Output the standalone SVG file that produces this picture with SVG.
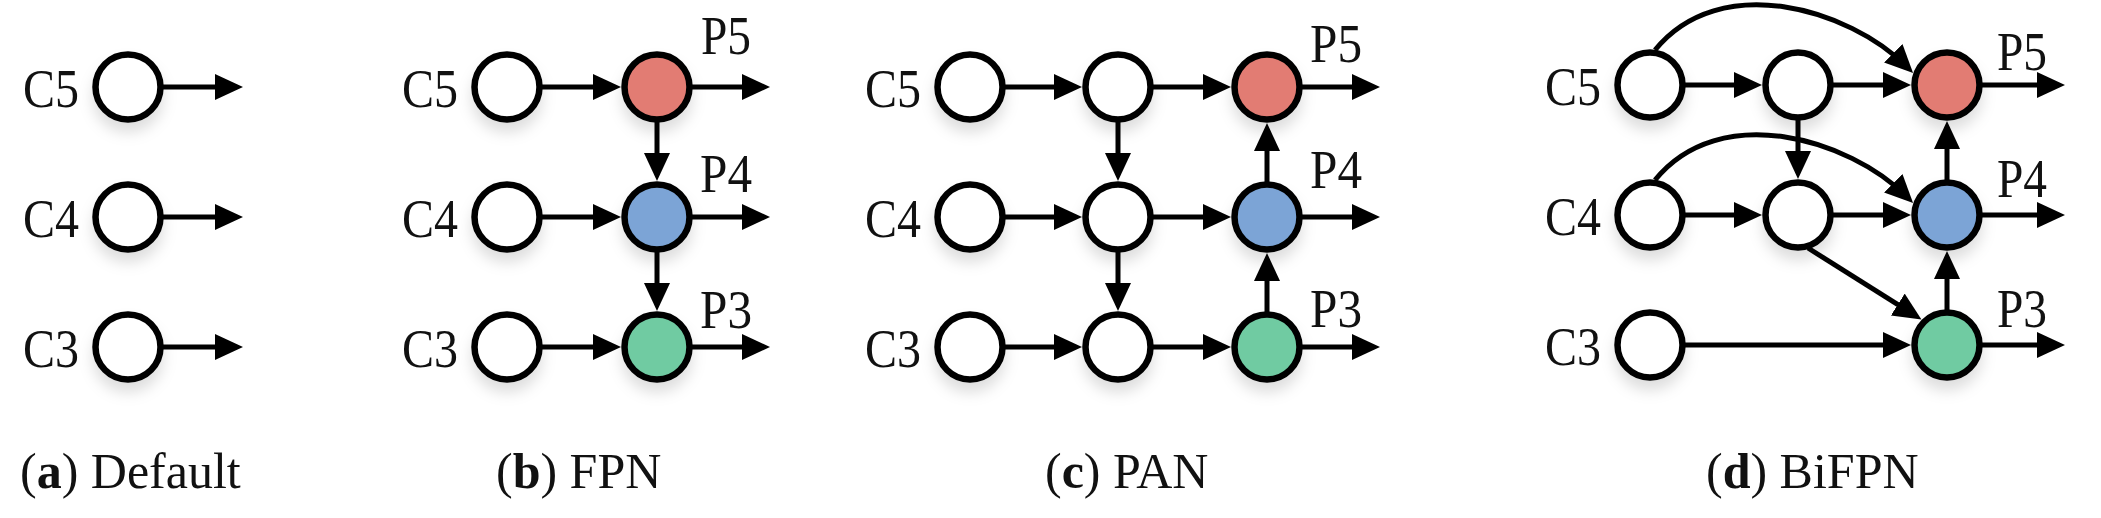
<svg xmlns="http://www.w3.org/2000/svg" width="2101" height="518" viewBox="0 0 2101 518">
<style>
.n{stroke:#000;stroke-width:6.5;filter:url(#sh)}
.w{fill:#fff}.r{fill:#E27B73}.b{fill:#7BA4D6}.g{fill:#6FCBA2}
.e{fill:none;stroke:#000;stroke-width:5;marker-end:url(#ah)}
.lc{font-size:54px;text-anchor:end;fill:#111}
.lp{font-size:54px;fill:#111}
.cap{font-size:50px;fill:#111}
</style>
<defs>
<filter id="sh" x="-50%" y="-50%" width="200%" height="220%">
<feDropShadow dx="0" dy="10" stdDeviation="7" flood-color="#000" flood-opacity="0.13"/>
</filter>
<marker id="ah" markerUnits="userSpaceOnUse" markerWidth="30" markerHeight="28" refX="18" refY="13" orient="auto">
<path d="M0,0 L28,13 L0,26 z" fill="#000"/>
</marker>
</defs>
<rect width="2101" height="518" fill="#fff"/>

<g id="connectors">
<path class="e" d="M161,87 H233"/>
<path class="e" d="M161,217 H233"/>
<path class="e" d="M161,347 H233"/>
<path class="e" d="M540,87 H611"/>
<path class="e" d="M540,217 H611"/>
<path class="e" d="M540,347 H611"/>
<path class="e" d="M690,87 H760"/>
<path class="e" d="M690,217 H760"/>
<path class="e" d="M690,347 H760"/>
<path class="e" d="M657,120 V171"/>
<path class="e" d="M657,250 V301"/>
<path class="e" d="M1003,87 H1072"/>
<path class="e" d="M1003,217 H1072"/>
<path class="e" d="M1003,347 H1072"/>
<path class="e" d="M1151,87 H1221"/>
<path class="e" d="M1151,217 H1221"/>
<path class="e" d="M1151,347 H1221"/>
<path class="e" d="M1118,120 V171"/>
<path class="e" d="M1118,250 V301"/>
<path class="e" d="M1267,184 V133"/>
<path class="e" d="M1267,314 V263"/>
<path class="e" d="M1300,87 H1370"/>
<path class="e" d="M1300,217 H1370"/>
<path class="e" d="M1300,347 H1370"/>
<path class="e" d="M1683,85 H1752"/>
<path class="e" d="M1683,215 H1752"/>
<path class="e" d="M1831,85 H1901"/>
<path class="e" d="M1831,215 H1901"/>
<path class="e" d="M1683,345 H1901"/>
<path class="e" d="M1798,118 V169"/>
<path class="e" d="M1947,182 V131"/>
<path class="e" d="M1947,312 V261"/>
<path class="e" d="M1980,85 H2055"/>
<path class="e" d="M1980,215 H2055"/>
<path class="e" d="M1980,345 H2055"/>
<path class="e" d="M1655,50 C1720,-30 1849.4,9.4 1906,66"/>
<path class="e" d="M1655,180 C1720,100 1849.4,139.4 1906,196"/>
<path class="e" d="M1808,248 L1913,314.2"/>
</g>

<g font-family="Liberation Serif, Times New Roman, serif">
<g id="a-C5"><circle class="n w" cx="128" cy="87" r="32.5"/><text class="lc" x="79" y="107" textLength="56" lengthAdjust="spacingAndGlyphs">C5</text></g>
<g id="a-C4"><circle class="n w" cx="128" cy="217" r="32.5"/><text class="lc" x="79" y="237" textLength="56" lengthAdjust="spacingAndGlyphs">C4</text></g>
<g id="a-C3"><circle class="n w" cx="128" cy="347" r="32.5"/><text class="lc" x="79" y="367" textLength="56" lengthAdjust="spacingAndGlyphs">C3</text></g>

<g id="b-C5"><circle class="n w" cx="507" cy="87" r="32.5"/><text class="lc" x="458" y="107" textLength="56" lengthAdjust="spacingAndGlyphs">C5</text></g>
<g id="b-C4"><circle class="n w" cx="507" cy="217" r="32.5"/><text class="lc" x="458" y="237" textLength="56" lengthAdjust="spacingAndGlyphs">C4</text></g>
<g id="b-C3"><circle class="n w" cx="507" cy="347" r="32.5"/><text class="lc" x="458" y="367" textLength="56" lengthAdjust="spacingAndGlyphs">C3</text></g>
<g id="b-P5"><circle class="n r" cx="657" cy="87" r="32.5"/><text class="lp" x="701" y="54" textLength="50" lengthAdjust="spacingAndGlyphs">P5</text></g>
<g id="b-P4"><circle class="n b" cx="657" cy="217" r="32.5"/><text class="lp" x="700" y="192" textLength="52" lengthAdjust="spacingAndGlyphs">P4</text></g>
<g id="b-P3"><circle class="n g" cx="657" cy="347" r="32.5"/><text class="lp" x="700" y="328" textLength="52" lengthAdjust="spacingAndGlyphs">P3</text></g>

<g id="c-C5"><circle class="n w" cx="970" cy="87" r="32.5"/><text class="lc" x="921" y="107" textLength="56" lengthAdjust="spacingAndGlyphs">C5</text></g>
<g id="c-C4"><circle class="n w" cx="970" cy="217" r="32.5"/><text class="lc" x="921" y="237" textLength="56" lengthAdjust="spacingAndGlyphs">C4</text></g>
<g id="c-C3"><circle class="n w" cx="970" cy="347" r="32.5"/><text class="lc" x="921" y="367" textLength="56" lengthAdjust="spacingAndGlyphs">C3</text></g>
<g id="c-M5"><circle class="n w" cx="1118" cy="87" r="32.5"/></g>
<g id="c-M4"><circle class="n w" cx="1118" cy="217" r="32.5"/></g>
<g id="c-M3"><circle class="n w" cx="1118" cy="347" r="32.5"/></g>
<g id="c-P5"><circle class="n r" cx="1267" cy="87" r="32.5"/><text class="lp" x="1310" y="62" textLength="52" lengthAdjust="spacingAndGlyphs">P5</text></g>
<g id="c-P4"><circle class="n b" cx="1267" cy="217" r="32.5"/><text class="lp" x="1310" y="188" textLength="52" lengthAdjust="spacingAndGlyphs">P4</text></g>
<g id="c-P3"><circle class="n g" cx="1267" cy="347" r="32.5"/><text class="lp" x="1310" y="327" textLength="52" lengthAdjust="spacingAndGlyphs">P3</text></g>

<g id="d-C5"><circle class="n w" cx="1650" cy="85" r="32.5"/><text class="lc" x="1601" y="105" textLength="56" lengthAdjust="spacingAndGlyphs">C5</text></g>
<g id="d-C4"><circle class="n w" cx="1650" cy="215" r="32.5"/><text class="lc" x="1601" y="235" textLength="56" lengthAdjust="spacingAndGlyphs">C4</text></g>
<g id="d-C3"><circle class="n w" cx="1650" cy="345" r="32.5"/><text class="lc" x="1601" y="365" textLength="56" lengthAdjust="spacingAndGlyphs">C3</text></g>
<g id="d-M5"><circle class="n w" cx="1798" cy="85" r="32.5"/></g>
<g id="d-M4"><circle class="n w" cx="1798" cy="215" r="32.5"/></g>
<g id="d-P5"><circle class="n r" cx="1947" cy="85" r="32.5"/><text class="lp" x="1997" y="70" textLength="50" lengthAdjust="spacingAndGlyphs">P5</text></g>
<g id="d-P4"><circle class="n b" cx="1947" cy="215" r="32.5"/><text class="lp" x="1997" y="197" textLength="50" lengthAdjust="spacingAndGlyphs">P4</text></g>
<g id="d-P3"><circle class="n g" cx="1947" cy="345" r="32.5"/><text class="lp" x="1997" y="327" textLength="50" lengthAdjust="spacingAndGlyphs">P3</text></g>

<g id="captions">
<text class="cap" x="20" y="488">(<tspan font-weight="bold">a</tspan>) Default</text>
<text class="cap" x="496" y="488">(<tspan font-weight="bold">b</tspan>) FPN</text>
<text class="cap" x="1045" y="488">(<tspan font-weight="bold">c</tspan>) PAN</text>
<text class="cap" x="1706" y="488">(<tspan font-weight="bold">d</tspan>) BiFPN</text>
</g>
</g>
</svg>
